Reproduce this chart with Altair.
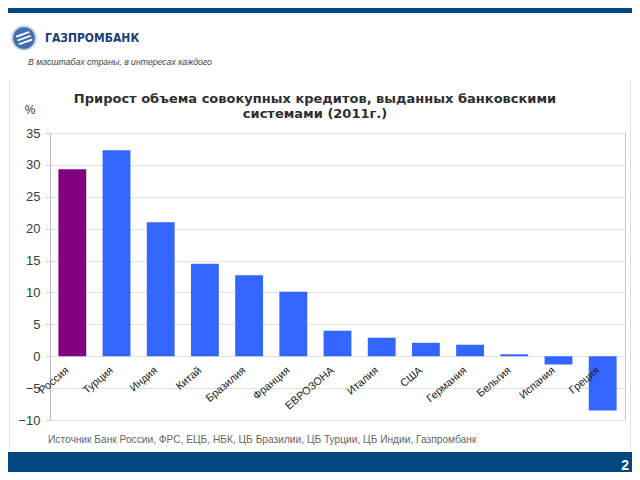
import altair as alt
import pandas as pd

categories = ["Россия", "Турция", "Индия", "Китай", "Бразилия", "Франция", "ЕВРОЗОНА",
              "Италия", "США", "Германия", "Бельгия", "Испания", "Греция"]
values = [29.3, 32.3, 21.0, 14.5, 12.7, 10.1, 4.0, 2.9, 2.1, 1.8, 0.3, -1.3, -8.5]
y_ticks = [-10, -5, 0, 5, 10, 15, 20, 25, 30, 35]

title_lines = ["Прирост объема совокупных кредитов, выданных банковскими", "системами (2011г.)"]
source_text = "Источник Банк России, ФРС, ЕЦБ, НБК, ЦБ Бразилии, ЦБ Турции, ЦБ Индии, Газпромбанк"
bank_name = "ГАЗПРОМБАНК"
tagline = "В масштабах страны, в интересах каждого"
page_no = "2"

df = pd.DataFrame({"cat": categories, "val": values})
one = pd.DataFrame({"k": [0]})

FONT = "Liberation Sans"
NAVY = "#00467f"

x_enc = alt.X("cat:N", sort=categories, axis=None,
              scale=alt.Scale(paddingInner=0.37, paddingOuter=0.19))
y_scale = alt.Scale(domain=[-10, 35], nice=False, zero=False)
y_axis = alt.Axis(values=y_ticks, ticks=True, tickSize=5, tickColor="#d0d0d0", labelPadding=5,
                  labelFontSize=13, title=None, labelColor="#3a3a3a", labelFont=FONT,
                  gridColor="#e3e3e3", domainColor="#b8b8b8", labelFlush=False,
                  labelOverlap=False, tickCount=10)

bars = alt.Chart(df).mark_bar().encode(
    x=x_enc,
    y=alt.Y("val:Q", scale=y_scale, axis=y_axis),
    y2=alt.datum(0),
    color=alt.condition(alt.datum.cat == "Россия", alt.value("#800080"), alt.value("#3366ff")),
)

labels = alt.Chart(df).mark_text(angle=320, align="right", baseline="middle", fontSize=10.8,
                                 font=FONT, color="#222", dx=-12, dy=7).encode(
    x=x_enc,
    y=alt.YDatum(0, scale=y_scale, axis=y_axis),
    text="cat:N",
)

def txt(s, x, y, **kw):
    return alt.Chart(one).mark_text(text=s, **kw).encode(x=alt.value(x), y=alt.value(y))

def rect(x, x2, y, y2, color):
    return alt.Chart(one).mark_rect(color=color).encode(
        x=alt.value(x), x2=alt.value(x2), y=alt.value(y), y2=alt.value(y2))

header = rect(-42, 582, -125, -120, NAVY)
footer = rect(-42, 582, 319, 339, NAVY)
frame_r = rect(580, 581, -53, 317, "#e2e2e2")
frame_l = rect(-41, -40, -53, 317, "#e2e2e2")

logo = alt.Chart(one).mark_point(shape="circle", filled=True, size=560, color="#3f6fb0",
                                 stroke="#c9d3e0", strokeWidth=2, opacity=1).encode(
    x=alt.value(-26), y=alt.value(-95))
logo_lines = alt.Chart(one).mark_text(text="≡", fontSize=22, color="white", angle=340,
                                      font="DejaVu Sans").encode(x=alt.value(-26), y=alt.value(-95))

name = txt(bank_name, -5, -95, align="left", baseline="middle", fontSize=12, fontWeight="bold",
           font="DejaVu Sans Condensed", color="#1b3f78")
tag = txt(tagline, -22, -71, align="left", baseline="middle", fontSize=8.7, fontStyle="italic",
          font=FONT, color="#444")

t1 = txt(title_lines[0], 265, -34, align="center", baseline="middle", fontSize=13,
         fontWeight="bold", font="DejaVu Sans", color="#2e2e2e")
t2 = txt(title_lines[1], 265, -19, align="center", baseline="middle", fontSize=13,
         fontWeight="bold", font="DejaVu Sans", color="#2e2e2e")
pct = txt("%", -20, -23, align="center", baseline="middle", fontSize=12, font=FONT, color="#333")
src = txt(source_text, -2, 307, align="left", baseline="middle", fontSize=10.2, font=FONT,
          color="#666")
num = txt(page_no, 579, 333, align="right", baseline="middle", fontSize=14, fontWeight="bold",
          font=FONT, color="white")

chart = alt.layer(frame_l, frame_r, bars, labels, header, footer, logo, logo_lines, name, tag,
                  t1, t2, pct, src, num).properties(
    width=575, height=287,
    autosize=alt.AutoSizeParams(type="none"),
    padding={"left": 42, "top": 125, "right": 7, "bottom": 52},
    background="white",
).configure_view(stroke="#c8c8c8")

chart.save("out.html", embed_options={"renderer": "svg", "actions": False})
